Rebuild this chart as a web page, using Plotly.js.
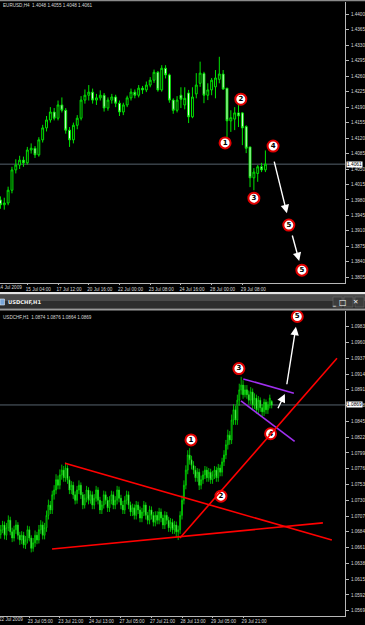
<!DOCTYPE html>
<html><head><meta charset="utf-8">
<script src="https://cdn.plot.ly/plotly-3.0.1.min.js"></script>
<style>html,body{margin:0;padding:0;background:#000;}#chart{width:365px;height:625px;}</style>
</head><body><div id="chart"></div>
<script>
// ---------- EURUSD H4 (top panel) ----------
const topOpen = [1.3980,1.3969,1.3973,1.4002,1.4048,1.4059,1.4070,1.4064,1.4093,1.4097,
1.4082,1.4116,1.4143,1.4161,1.4179,1.4165,1.4195,1.4183,1.4138,1.4116,
1.4149,1.4165,1.4206,1.4217,1.4224,1.4206,1.4211,1.4217,1.4188,1.4206,
1.4213,1.4199,1.4179,1.4195,1.4211,1.4224,1.4217,1.4233,1.4229,1.4240,
1.4251,1.4269,1.4229,1.4278,1.4263,1.4206,1.4183,1.4217,1.4195,1.4222,
1.4168,1.4220,1.4244,1.4266,1.4217,1.4229,1.4236,1.4253,1.4265,1.4233,
1.4159,1.4163,1.4177,1.4177,1.4146,1.4100,1.4030,1.4040,1.4055,1.4048];
const topHigh = [1.3988,1.3985,1.4010,1.4055,1.4072,1.4080,1.4078,1.4100,1.4108,1.4102,
1.4122,1.4150,1.4170,1.4190,1.4188,1.4205,1.4212,1.4188,1.4145,1.4155,
1.4172,1.4215,1.4230,1.4240,1.4232,1.4220,1.4228,1.4222,1.4212,1.4220,
1.4218,1.4205,1.4200,1.4216,1.4232,1.4230,1.4240,1.4238,1.4248,1.4258,
1.4275,1.4272,1.4285,1.4285,1.4266,1.4210,1.4215,1.4235,1.4235,1.4229,
1.4235,1.4267,1.4293,1.4270,1.4244,1.4256,1.4274,1.4304,1.4274,1.4233,
1.4183,1.4190,1.4195,1.4179,1.4149,1.4100,1.4052,1.4059,1.4064,1.4092];
const topLow = [1.3960,1.3958,1.3968,1.3995,1.4040,1.4050,1.4055,1.4060,1.4085,1.4075,
1.4078,1.4110,1.4135,1.4155,1.4160,1.4160,1.4178,1.4130,1.4100,1.4108,
1.4140,1.4160,1.4198,1.4205,1.4198,1.4195,1.4205,1.4180,1.4182,1.4198,
1.4190,1.4170,1.4172,1.4190,1.4205,1.4210,1.4212,1.4220,1.4224,1.4235,
1.4245,1.4225,1.4225,1.4255,1.4200,1.4175,1.4178,1.4188,1.4185,1.4154,
1.4165,1.4210,1.4236,1.4199,1.4206,1.4217,1.4210,1.4244,1.4229,1.4122,
1.4134,1.4138,1.4145,1.4104,1.4086,1.4009,1.4002,1.4021,1.4043,1.4043];
const topClose = [1.3969,1.3973,1.4002,1.4048,1.4059,1.4070,1.4064,1.4093,1.4097,1.4082,
1.4116,1.4143,1.4161,1.4179,1.4165,1.4195,1.4183,1.4138,1.4116,1.4149,
1.4165,1.4206,1.4217,1.4224,1.4206,1.4211,1.4217,1.4188,1.4206,1.4213,
1.4199,1.4179,1.4195,1.4211,1.4224,1.4217,1.4233,1.4229,1.4240,1.4251,
1.4269,1.4229,1.4278,1.4263,1.4206,1.4183,1.4206,1.4208,1.4210,1.4168,
1.4213,1.4240,1.4267,1.4217,1.4229,1.4251,1.4256,1.4265,1.4231,1.4159,
1.4166,1.4177,1.4170,1.4143,1.4097,1.4030,1.4043,1.4055,1.4048,1.4061];
const topTickBars = [8,16,24,32,40,48,56,64];
const topTickText = ['15 Jul 04:00','17 Jul 12:00','20 Jul 16:00','22 Jul 00:00','23 Jul 08:00','24 Jul 16:00','28 Jul 00:00','29 Jul 08:00'];
const topFirstLabel = '14 Jul 2009';
const topPriceTicks = [1.3805,1.3840,1.3875,1.3910,1.3945,1.3980,1.4015,1.4050,1.4085,1.4120,1.4155,1.4190,1.4225,1.4260,1.4295,1.4330,1.4365,1.4400];
const topLast = 1.4061;
const topHeader = 'EURUSD,H4  1.4048 1.4055 1.4048 1.4061';
const topWaveLabels = ['1','2','3','4','5','5'];
const topWaveBars = [59.5,63.6,67.0,72.0,76.1,79.5];
const topWavePrices = [1.4109,1.4208,1.3984,1.4102,1.3923,1.3821];
const topArrowFromBar = [72.2,76.9], topArrowFromPrice = [1.4070,1.3903];
const topArrowToBar = [75.6,78.8], topArrowToPrice = [1.3950,1.3842];

// ---------- USDCHF H1 (bottom panel) ----------
const botOpen = [1.0680,1.0687,1.0694,1.0679,1.0690,1.0701,1.0684,1.0675,1.0687,1.0694,1.0679,
1.0672,1.0679,1.0665,1.0672,1.0687,1.0675,1.0660,1.0668,1.0679,1.0672,1.0687,1.0694,1.0679,
1.0690,1.0708,1.0723,1.0716,1.0738,1.0745,1.0760,1.0752,1.0767,1.0774,1.0763,
1.0777,1.0760,1.0745,1.0752,1.0738,1.0730,1.0745,1.0752,1.0738,1.0723,1.0733,1.0745,1.0730,
1.0738,1.0723,1.0733,1.0745,1.0730,1.0716,1.0723,1.0738,1.0730,1.0719,
1.0730,1.0738,1.0723,1.0730,1.0745,1.0733,1.0723,1.0716,1.0730,1.0738,1.0723,
1.0713,1.0719,1.0708,1.0723,1.0716,1.0704,1.0713,1.0723,1.0708,1.0701,1.0716,1.0708,1.0698,
1.0708,1.0701,1.0713,1.0704,1.0694,1.0708,1.0701,1.0690,1.0698,1.0687,1.0694,
1.0684,1.0687,1.0708,1.0730,1.0752,1.0774,1.0796,
1.0789,1.0781,1.0774,1.0763,1.0771,1.0752,1.0760,1.0767,1.0774,1.0763,
1.0771,1.0760,1.0767,1.0774,1.0763,1.0777,1.0771,
1.0786,1.0796,1.0811,1.0825,1.0818,1.0847,1.0862,1.0847,1.0876,
1.0891,1.0898,1.0884,
1.0891,1.0884,1.0876,1.0888,1.0869,1.0879,1.0862,1.0876,1.0865,1.0859,1.0873,1.0862,1.0869,1.0874];
const botHigh = [1.0694,1.0700,1.0699,1.0697,1.0708,1.0706,1.0690,1.0693,1.0701,1.0698,1.0684,
1.0685,1.0684,1.0678,1.0693,1.0692,1.0679,1.0675,1.0686,1.0684,1.0694,1.0701,1.0699,1.0697,
1.0715,1.0731,1.0729,1.0744,1.0752,1.0768,1.0766,1.0775,1.0782,1.0780,1.0785,
1.0781,1.0765,1.0758,1.0757,1.0743,1.0751,1.0759,1.0756,1.0742,1.0739,1.0751,1.0749,1.0744,
1.0743,1.0739,1.0751,1.0749,1.0735,1.0729,1.0744,1.0743,1.0735,1.0736,
1.0744,1.0743,1.0736,1.0751,1.0750,1.0738,1.0729,1.0736,1.0744,1.0743,1.0728,
1.0725,1.0724,1.0729,1.0728,1.0721,1.0719,1.0729,1.0727,1.0713,1.0722,1.0721,1.0713,1.0714,
1.0714,1.0719,1.0718,1.0709,1.0714,1.0713,1.0706,1.0704,1.0703,1.0700,1.0699,
1.0693,1.0714,1.0737,1.0759,1.0781,1.0803,1.0806,
1.0795,1.0787,1.0780,1.0777,1.0776,1.0766,1.0773,1.0780,1.0779,1.0777,
1.0776,1.0773,1.0780,1.0779,1.0783,1.0782,1.0792,
1.0803,1.0818,1.0833,1.0831,1.0855,1.0870,1.0868,1.0884,1.0900,
1.0910,1.0905,1.0898,
1.0898,1.0890,1.0895,1.0893,1.0886,1.0884,1.0882,1.0880,1.0870,1.0878,1.0877,1.0874,1.0884,1.0876];
const botLow = [1.0674,1.0682,1.0673,1.0672,1.0685,1.0679,1.0669,1.0670,1.0681,1.0673,1.0665,
1.0666,1.0660,1.0659,1.0667,1.0670,1.0654,1.0655,1.0662,1.0666,1.0667,1.0681,1.0673,1.0673,
1.0684,1.0702,1.0710,1.0710,1.0731,1.0739,1.0746,1.0746,1.0760,1.0757,1.0757,
1.0754,1.0739,1.0739,1.0732,1.0724,1.0725,1.0739,1.0732,1.0717,1.0718,1.0727,1.0724,1.0725,
1.0717,1.0717,1.0728,1.0724,1.0710,1.0710,1.0718,1.0724,1.0713,1.0713,
1.0724,1.0717,1.0717,1.0724,1.0727,1.0717,1.0710,1.0710,1.0724,1.0717,1.0707,
1.0707,1.0702,1.0702,1.0710,1.0698,1.0698,1.0707,1.0702,1.0695,1.0695,1.0702,1.0692,1.0692,
1.0695,1.0695,1.0698,1.0688,1.0688,1.0695,1.0684,1.0684,1.0681,1.0681,1.0676,
1.0672,1.0681,1.0702,1.0724,1.0746,1.0768,1.0782,
1.0775,1.0768,1.0757,1.0757,1.0745,1.0746,1.0754,1.0761,1.0757,1.0757,
1.0754,1.0754,1.0761,1.0757,1.0757,1.0765,1.0765,
1.0780,1.0790,1.0804,1.0811,1.0812,1.0840,1.0840,1.0840,1.0868,
1.0884,1.0878,1.0880,
1.0878,1.0870,1.0870,1.0863,1.0863,1.0856,1.0856,1.0859,1.0852,1.0853,1.0856,1.0856,1.0864,1.0864];
const botClose = [1.0687,1.0694,1.0679,1.0690,1.0701,1.0684,1.0675,1.0687,1.0694,1.0679,1.0672,
1.0679,1.0665,1.0672,1.0687,1.0675,1.0660,1.0668,1.0679,1.0672,1.0687,1.0694,1.0679,1.0690,
1.0708,1.0723,1.0716,1.0738,1.0745,1.0760,1.0752,1.0767,1.0774,1.0763,1.0777,
1.0760,1.0745,1.0752,1.0738,1.0730,1.0745,1.0752,1.0738,1.0723,1.0733,1.0745,1.0730,1.0738,
1.0723,1.0733,1.0745,1.0730,1.0716,1.0723,1.0738,1.0730,1.0719,1.0730,
1.0738,1.0723,1.0730,1.0745,1.0733,1.0723,1.0716,1.0730,1.0738,1.0723,1.0713,
1.0719,1.0708,1.0723,1.0716,1.0704,1.0713,1.0723,1.0708,1.0701,1.0716,1.0708,1.0698,1.0708,
1.0701,1.0713,1.0704,1.0694,1.0708,1.0701,1.0690,1.0698,1.0687,1.0694,1.0684,
1.0687,1.0708,1.0730,1.0752,1.0774,1.0796,1.0789,
1.0781,1.0774,1.0763,1.0771,1.0752,1.0760,1.0767,1.0774,1.0763,1.0771,
1.0760,1.0767,1.0774,1.0763,1.0777,1.0771,1.0786,
1.0796,1.0811,1.0825,1.0818,1.0847,1.0862,1.0847,1.0876,1.0891,
1.0898,1.0884,1.0891,
1.0884,1.0876,1.0888,1.0869,1.0879,1.0862,1.0876,1.0865,1.0859,1.0873,1.0862,1.0869,1.0879,1.0869];
const botTickBars = [16,32,48,64,80,96,112,128];
const botTickText = ['23 Jul 05:00','23 Jul 21:00','24 Jul 13:00','27 Jul 05:00','27 Jul 21:00','28 Jul 13:00','29 Jul 05:00','29 Jul 21:00'];
const botFirstLabel = '22 Jul 2009';
const botPriceTicks = [1.0569,1.0592,1.0615,1.0638,1.0661,1.0684,1.0707,1.0730,1.0753,1.0776,1.0799,1.0822,1.0845,1.0868,1.0891,1.0914,1.0937,1.0960,1.0983];
const botLast = 1.0869;
const botHeader = 'USDCHF,H1  1.0874 1.0876 1.0864 1.0869';
const botWindowTitle = 'USDCHF,H1';
const botWaveLabels = ['1','2','3','4','5'];
const botWaveBars = [100.7,116.4,125.8,142.4,156.4];
const botWavePrices = [1.0818,1.0736,1.0922,1.0827,1.0998];
const redLineBars = [[94.9,177.2],[34.7,174.5],[27.9,169.8]];
const redLinePrices = [[1.0675,1.0937],[1.0784,1.0672],[1.0659,1.0697]];
const purpleLineBars = [[128.1,154.6],[126.9,155.0]];
const purpleLinePrices = [[1.0907,1.0886],[1.0875,1.0816]];
const botArrowFromBar = [145.9,150.8], botArrowFromPrice = [1.0862,1.0897];
const botArrowToBar = [149.9,155.7], botArrowToPrice = [1.0885,1.0983];

// ---------- layout helpers ----------
const W = 365, H = 625;
const px = x => x / W, py = y => 1 - y / H;
const plotRight = px(345);
const idx = arr => arr.map((_, i) => i + 1);
const GREEN = '#00e400';
const TXT = '#d8d8d8';
const FONT = 'Liberation Sans';

function candles(o, h, l, c, xa, ya, lw) {
  return {
    type: 'candlestick', x: idx(o), open: o, high: h, low: l, close: c,
    xaxis: xa, yaxis: ya, hoverinfo: 'skip', whiskerwidth: 0,
    increasing: {line: {color: GREEN, width: lw}, fillcolor: '#000000'},
    decreasing: {line: {color: GREEN, width: lw}, fillcolor: '#ffffff'},
    showlegend: false
  };
}
function waves(labels, bars, prices, xa, ya) {
  return {
    type: 'scatter', mode: 'markers+text', x: bars, y: prices, text: labels,
    xaxis: xa, yaxis: ya, cliponaxis: false, hoverinfo: 'skip', showlegend: false,
    marker: {size: 11, color: '#ffffff', line: {color: '#e00000', width: 2}},
    textposition: 'middle center',
    textfont: {family: 'DejaVu Sans', size: 7, color: '#000000', weight: 'bold'}
  };
}
function seg(bars, prices, color, xa, ya) {
  return bars.map((b, i) => ({
    type: 'scatter', mode: 'lines', x: b, y: prices[i], xaxis: xa, yaxis: ya,
    line: {color: color, width: 1.6}, hoverinfo: 'skip', showlegend: false
  }));
}
function arrows(fb, fp, tb, tp, xa, ya) {
  return fb.map((b, i) => ({
    x: tb[i], y: tp[i], ax: b, ay: fp[i], xref: xa, yref: ya, axref: xa, ayref: ya,
    showarrow: true, arrowhead: 2, arrowsize: 1.2, arrowwidth: 1.4, arrowcolor: '#ffffff',
    text: '', standoff: 0, startstandoff: 0
  }));
}

const data = [
  candles(topOpen, topHigh, topLow, topClose, 'x', 'y', 1),
  waves(topWaveLabels, topWaveBars, topWavePrices, 'x', 'y'),
  candles(botOpen, botHigh, botLow, botClose, 'x2', 'y2', 0.8),
  ...seg(purpleLineBars, purpleLinePrices, '#a030f0', 'x2', 'y2'),
  waves(botWaveLabels, botWaveBars, botWavePrices, 'x2', 'y2'),
  ...seg(redLineBars, redLinePrices, '#ff0000', 'x2', 'y2')
];

const xCommon = {
  showgrid: false, zeroline: false, showline: true, linecolor: '#b8b8b8', linewidth: 1,
  ticks: 'outside', ticklen: 1, tickcolor: '#b8b8b8', tickmode: 'array',
  tickfont: {family: FONT, size: 4.6, color: TXT}, ticklabelshift: 11, ticklabelstandoff: 0,
  rangeslider: {visible: false}, fixedrange: true
};
const yCommon = {
  showgrid: false, zeroline: false, showline: true, linecolor: '#b8b8b8', linewidth: 1,
  side: 'right', ticks: 'outside', ticklen: 3, tickcolor: '#b8b8b8', tickmode: 'array',
  tickfont: {family: FONT, size: 4.6, color: TXT}, ticklabelstandoff: 1, fixedrange: true
};

const layout = {
  width: W, height: H, margin: {l: 0, r: 0, t: 0, b: 0},
  paper_bgcolor: '#000000', plot_bgcolor: '#000000', showlegend: false,
  xaxis: Object.assign({}, xCommon, {domain: [0, plotRight], anchor: 'y', range: [0.885, 90.73],
    tickvals: topTickBars, ticktext: topTickText}),
  yaxis: Object.assign({}, yCommon, {domain: [py(283), py(2)], anchor: 'x', range: [1.3792, 1.4428],
    tickvals: topPriceTicks, ticktext: topPriceTicks.map(v => v.toFixed(4))}),
  xaxis2: Object.assign({}, xCommon, {domain: [0, plotRight], anchor: 'y2', range: [0.63, 181.4],
    tickvals: botTickBars, ticktext: botTickText}),
  yaxis2: Object.assign({}, yCommon, {domain: [py(615.5), py(311)], anchor: 'x2', range: [1.0562, 1.1006],
    tickvals: botPriceTicks, ticktext: botPriceTicks.map(v => v.toFixed(4))}),
  shapes: [
    {type: 'rect', xref: 'paper', yref: 'paper', x0: 0, x1: 1, y0: py(1.2), y1: 1, fillcolor: '#8a8a8a', line: {width: 0}, layer: 'above'},
    {type: 'line', xref: 'paper', yref: 'y', x0: 0, x1: plotRight, y0: topLast, y1: topLast, line: {color: '#56636e', width: 1}, layer: 'below'},
    {type: 'line', xref: 'paper', yref: 'y2', x0: 0, x1: plotRight, y0: botLast, y1: botLast, line: {color: '#56636e', width: 1}, layer: 'below'},
    {type: 'rect', xref: 'paper', yref: 'paper', x0: 0, x1: 1, y0: py(294.5), y1: py(292), fillcolor: '#e4e4e4', line: {width: 0}},
    {type: 'rect', xref: 'paper', yref: 'paper', x0: 0, x1: 1, y0: py(301), y1: py(294.5), fillcolor: '#4a4a4a', line: {width: 0}},
    {type: 'rect', xref: 'paper', yref: 'paper', x0: 0, x1: 1, y0: py(308.5), y1: py(301), fillcolor: '#2e2e2e', line: {width: 0}},
    {type: 'rect', xref: 'paper', yref: 'paper', x0: 0, x1: 1, y0: py(310.5), y1: py(308.5), fillcolor: '#9a9a9a', line: {width: 0}},
    {type: 'rect', xref: 'paper', yref: 'paper', x0: px(0), x1: px(4.5), y0: py(305), y1: py(299), fillcolor: '#7aa6d8', line: {color: '#dfe8f2', width: 0.6}},
    {type: 'rect', xref: 'paper', yref: 'paper', x0: px(333), x1: px(342), y0: py(307), y1: py(297), fillcolor: '#3c3c3c', line: {color: '#6a6a6a', width: 0.6}},
    {type: 'rect', xref: 'paper', yref: 'paper', x0: px(344), x1: px(353), y0: py(307), y1: py(297), fillcolor: '#3c3c3c', line: {color: '#6a6a6a', width: 0.6}},
    {type: 'rect', xref: 'paper', yref: 'paper', x0: px(355), x1: px(364), y0: py(307), y1: py(297), fillcolor: '#3c3c3c', line: {color: '#6a6a6a', width: 0.6}}
  ],
  annotations: [
    {xref: 'paper', yref: 'paper', x: px(0.5), y: py(5), xanchor: 'left', yanchor: 'middle', showarrow: false,
     text: topHeader, font: {family: FONT, size: 4.6, color: TXT}},
    {xref: 'paper', yref: 'paper', x: px(0.5), y: py(317), xanchor: 'left', yanchor: 'middle', showarrow: false,
     text: botHeader, font: {family: FONT, size: 4.6, color: TXT}},
    {xref: 'paper', yref: 'paper', x: px(-3.6), y: py(287), xanchor: 'left', yanchor: 'middle', showarrow: false,
     text: topFirstLabel, font: {family: FONT, size: 4.6, color: TXT}},
    {xref: 'paper', yref: 'paper', x: px(-3.0), y: py(619.5), xanchor: 'left', yanchor: 'middle', showarrow: false,
     text: botFirstLabel, font: {family: FONT, size: 4.6, color: TXT}},
    {xref: 'paper', yref: 'paper', x: px(6), y: py(302), xanchor: 'left', yanchor: 'middle', showarrow: false,
     text: '<b>' + botWindowTitle + '</b>', font: {family: 'DejaVu Sans', size: 5.2, color: '#f0f0f0'}},
    {xref: 'paper', yref: 'paper', x: px(337.5), y: py(302.5), showarrow: false, text: '<b>_</b>', font: {family: 'DejaVu Sans', size: 6, color: '#ffffff'}},
    {xref: 'paper', yref: 'paper', x: px(348.5), y: py(302), showarrow: false, text: '□', font: {family: 'DejaVu Sans', size: 8, color: '#ffffff'}},
    {xref: 'paper', yref: 'paper', x: px(359.5), y: py(302), showarrow: false, text: '<b>✕</b>', font: {family: 'DejaVu Sans', size: 6.5, color: '#ffffff'}},
    {xref: 'paper', yref: 'y', x: px(346), y: topLast, xanchor: 'left', yanchor: 'middle', showarrow: false,
     text: topLast.toFixed(4), bgcolor: '#ffffff', borderpad: 0, font: {family: FONT, size: 4.8, color: '#000000'}},
    {xref: 'paper', yref: 'y2', x: px(346), y: botLast, xanchor: 'left', yanchor: 'middle', showarrow: false,
     text: botLast.toFixed(4), bgcolor: '#ffffff', borderpad: 0, font: {family: FONT, size: 4.8, color: '#000000'}},
    ...arrows(topArrowFromBar, topArrowFromPrice, topArrowToBar, topArrowToPrice, 'x', 'y'),
    ...arrows(botArrowFromBar, botArrowFromPrice, botArrowToBar, botArrowToPrice, 'x2', 'y2')
  ]
};

Plotly.newPlot('chart', data, layout, {staticPlot: true, displayModeBar: false});
</script>
</body></html>
